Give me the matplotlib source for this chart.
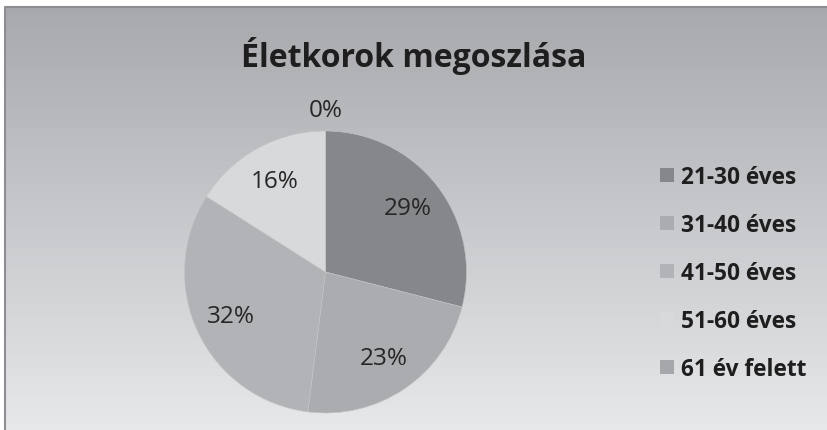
import numpy as np
import matplotlib
matplotlib.use("Agg")
import matplotlib.pyplot as plt
from matplotlib.lines import Line2D

categories = ["21-30 éves", "31-40 éves", "41-50 éves", "51-60 éves", "61 év felett"]
values = [29, 23, 32, 16, 0]
colors = ["#86878b", "#abacaf", "#b2b3b6", "#d8d9db", "#a6a7aa"]
title = "Életkorok megoszlása"

W, H = 828, 431
fig = plt.figure(figsize=(W / 100, H / 100), dpi=100)
fig.patch.set_facecolor("white")

# background panel with vertical gradient
x0, y0 = 5, 8
bg = fig.add_axes([x0 / W, 0, 1 - x0 / W, (H - y0) / H])
grad = np.linspace(0, 1, 256).reshape(-1, 1)
top = np.array([168, 169, 173]) / 255
bot = np.array([231, 232, 234]) / 255
img = top + (bot - top) * grad[:, :, None]
bg.imshow(img, aspect="auto", extent=[0, 1, 0, 1], origin="upper")
bg.set_xlim(0, 1)
bg.set_ylim(0, 1)
bg.axis("off")
# darker border on the left and top edges only
fig.add_artist(Line2D([x0 / W, x0 / W, 1], [0, 1 - y0 / H, 1 - y0 / H],
                      transform=fig.transFigure, color="#8d8e92", lw=1.5))

# pie axes
cx, cy, r = 325.5, 273, 141
ax = fig.add_axes([(cx - r) / W, (H - cy - r) / H, 2 * r / W, 2 * r / H])
wedges, texts, autotexts = ax.pie(
    values, colors=colors, startangle=90, counterclock=False,
    autopct=lambda p: f"{p:.0f}%", pctdistance=0.74,
    wedgeprops=dict(edgecolor="#c4c5c7", linewidth=0.4),
    textprops=dict(fontsize=17.5, family="Open Sans", color="#262626"),
)
ax.set_xlim(-1, 1)
ax.set_ylim(-1, 1)
ax.set_aspect("equal")
ax.axis("off")

# move zero-size label outside the pie
for w, t, v in zip(wedges, autotexts, values):
    if v == 0:
        ang = np.deg2rad((w.theta1 + w.theta2) / 2)
        t.set_position((1.15 * np.cos(ang), 1.15 * np.sin(ang)))

fig.text(414 / W, 1 - 56 / H, title, ha="center", va="center",
         fontsize=23, fontweight="bold", family="Open Sans", color="#1e1e1e")

leg = fig.legend(wedges, categories, loc="center left",
                 bbox_to_anchor=(640 / W, 1 - 274 / H),
                 frameon=False, handlelength=0.62, handleheight=0.62,
                 handletextpad=0.3, labelspacing=1.06,
                 prop=dict(family="Open Sans", weight="bold", size=16.3))
for t in leg.get_texts():
    t.set_color("#1e1e1e")
for h in leg.legend_handles:
    h.set_edgecolor("none")

fig.savefig("out.png", dpi=100, facecolor=fig.get_facecolor())
